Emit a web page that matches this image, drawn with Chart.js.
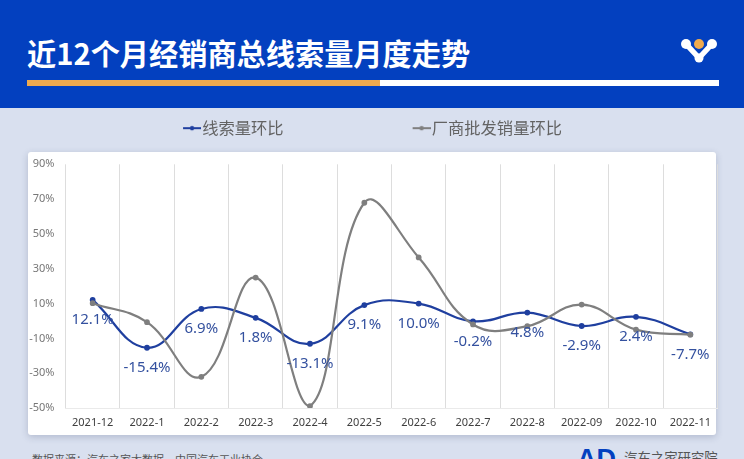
<!DOCTYPE html>
<html lang="zh">
<head>
<meta charset="utf-8">
<script src="https://cdn.jsdelivr.net/npm/chart.js@4"></script>
<style>
html,body{margin:0;padding:0;width:744px;height:459px;overflow:hidden;background:#D9E0EF;font-family:"Noto Sans CJK SC","Noto Sans",sans-serif}
#head{position:absolute;left:0;top:0;width:744px;height:108px;background:#0340BF}
#title{position:absolute;left:27px;top:30px;font-size:29.2px;line-height:44px;font-weight:700;color:#fff;white-space:nowrap}
#bar1{position:absolute;left:27px;top:80px;width:353px;height:6px;background:#EFAA4E}
#bar2{position:absolute;left:380px;top:80px;width:339px;height:6px;background:#fff}
#logo{position:absolute;left:681px;top:36px}
#card{position:absolute;left:28px;top:152px;width:688px;height:283px;background:#fff;border-radius:3px;box-shadow:0 2px 7px rgba(40,50,90,.22)}
#wrap{position:absolute;left:0;top:0;width:744px;height:459px}
#src{position:absolute;left:32px;top:451px;font-size:11px;line-height:16px;color:#555;white-space:nowrap}
#org{position:absolute;left:624px;top:447px;font-size:13.4px;line-height:20px;color:#555;white-space:nowrap}
#ad{position:absolute;left:577px;top:446px}
</style>
</head>
<body>
<div id="head">
  <div id="title">近12个月经销商总线索量月度走势</div>
  <div id="bar1"></div><div id="bar2"></div>
  <svg id="logo" width="40" height="30" viewBox="0 0 40 30">
    <path d="M5 8 L18 22 L31 8" fill="none" stroke="#fff" stroke-width="5.5" stroke-linecap="round" stroke-linejoin="round"/>
    <circle cx="5" cy="8" r="5" fill="#fff"/>
    <circle cx="31" cy="8" r="5" fill="#fff"/>
    <circle cx="18" cy="22" r="4.5" fill="#fff"/>
    <circle cx="18" cy="8" r="5" fill="#EFAA4E"/>
  </svg>
</div>
<div id="card"></div>
<div id="src">数据来源：汽车之家大数据，中国汽车工业协会</div>
<svg id="ad" width="40" height="13" viewBox="0 0 40 13">
  <text x="0" y="22" font-family="Liberation Sans" font-weight="700" font-size="27" fill="#0340BF">AD</text>
</svg>
<div id="org">汽车之家研究院</div>
<div id="wrap"><canvas id="c" width="744" height="459"></canvas></div>
<script>
const categories = ["2021-12","2022-1","2022-2","2022-3","2022-4","2022-5","2022-6","2022-7","2022-8","2022-09","2022-10","2022-11"];
const leadsMoM = [12.1,-15.4,6.9,1.8,-13.1,9.1,10.0,-0.2,4.8,-2.9,2.4,-7.7];
const wholesaleMoM = [10.2,-0.7,-32.1,24.9,-48.9,67.9,36.5,-2,-3,9.4,-5,-7.9];
const seriesNames = ["线索量环比","厂商批发销量环比"];
const yTicks = {min:-50,max:90,step:20};

const BLUE="#1F3F9F", GRAY="#7F7F7F";
function marker(color){
  const m=document.createElement("canvas");m.width=26;m.height=8;
  const x=m.getContext("2d");
  x.strokeStyle=color;x.lineWidth=2;x.beginPath();x.moveTo(8,4);x.lineTo(26,4);x.stroke();
  x.fillStyle=color;x.beginPath();x.arc(17,4,2.2,0,Math.PI*2);x.fill();
  return m;
}
const pointLabels={
  id:"pointLabels",
  afterDatasetsDraw(chart){
    const ctx=chart.ctx,meta=chart.getDatasetMeta(0);
    ctx.save();
    ctx.font='15px "Noto Sans","Noto Sans CJK SC",sans-serif';
    ctx.fillStyle="#34519F";ctx.textAlign="center";ctx.textBaseline="middle";
    meta.data.forEach((p,i)=>{
      ctx.fillText(leadsMoM[i].toFixed(1)+"%",p.x,p.y+20);
    });
    ctx.restore();
  }
};
new Chart(document.getElementById("c"),{
  type:"line",
  data:{labels:categories,datasets:[
    {label:seriesNames[0],data:leadsMoM,borderColor:BLUE,backgroundColor:BLUE,borderWidth:2.2,pointRadius:1.8,tension:0.42,order:2},
    {label:seriesNames[1],data:wholesaleMoM,borderColor:GRAY,backgroundColor:GRAY,borderWidth:2.2,pointRadius:1.8,tension:0.42,order:1}
  ]},
  plugins:[pointLabels],
  options:{
    responsive:false,animation:false,
    layout:{padding:{left:26.5,right:26.5,bottom:26,top:-8}},
    plugins:{
      tooltip:{enabled:false},
      title:{display:true,text:"",weight:500,padding:0,font:{size:18,lineHeight:1}},
      legend:{
        display:true,position:"top",align:"center",
        labels:{
          padding:128,usePointStyle:true,pointStyleWidth:12,
          color:"#636363",font:{size:16.3,family:'"Noto Sans CJK SC",sans-serif'},
          generateLabels(){return seriesNames.map((n,i)=>({text:n,pointStyle:marker(i?GRAY:BLUE),fillStyle:i?GRAY:BLUE,strokeStyle:i?GRAY:BLUE,lineWidth:0,datasetIndex:i,fontColor:"#636363"}));}
        }
      }
    },
    scales:{
      x:{
        offset:true,
        afterFit(s){s.height=25;},
        grid:{offset:true,drawTicks:false,color:c=>c.index===categories.length?"rgba(0,0,0,0)":"#DDDDDD",lineWidth:1},
        border:{color:"#EAEAEA",width:1},
        ticks:{padding:8,maxRotation:0,autoSkip:false,color:"#404040",font:{size:11,family:'"Noto Sans",sans-serif'}}
      },
      y:{
        min:yTicks.min,max:yTicks.max,
        afterFit(s){s.width=39;},
        grid:{display:false,drawTicks:false},border:{display:false},
        ticks:{stepSize:yTicks.step,padding:11,color:"#777777",font:{size:11,family:'"Noto Sans",sans-serif'},callback:v=>v+"%"}
      }
    }
  }
});
</script>
</body>
</html>
